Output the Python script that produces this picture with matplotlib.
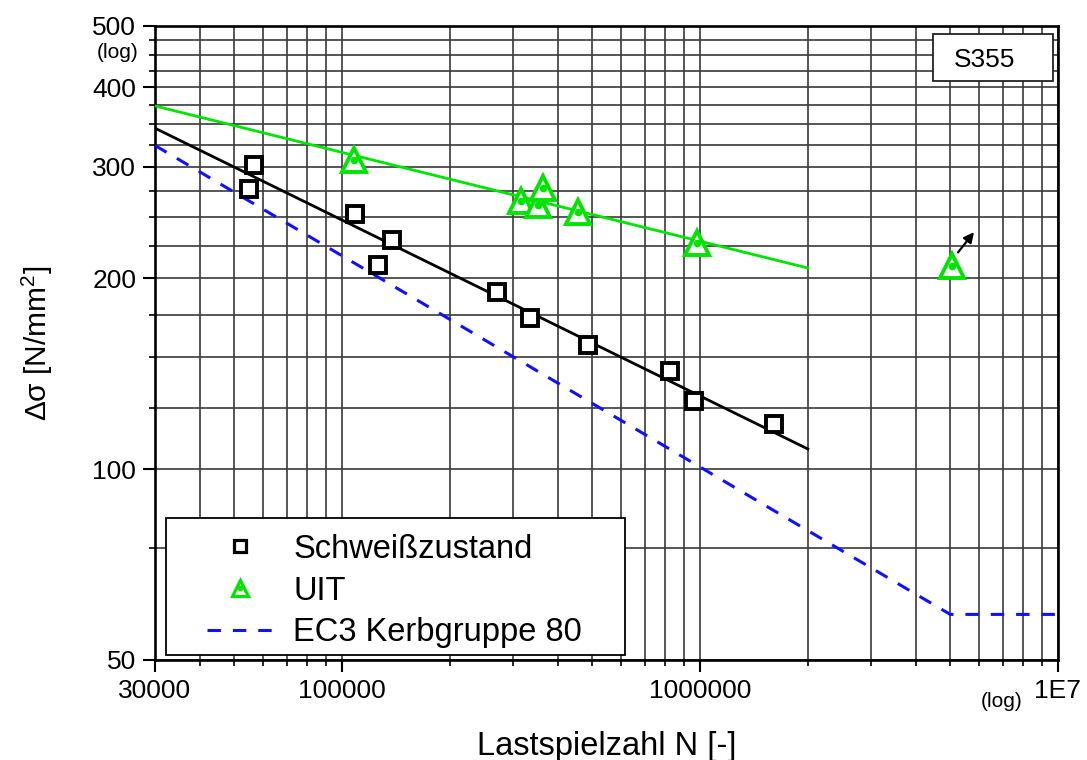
import numpy as np
import matplotlib.pyplot as plt
import matplotlib.transforms as mtransforms
from matplotlib.patches import Rectangle
from matplotlib.lines import Line2D
from matplotlib.ticker import LogLocator, NullFormatter

plt.rcParams['font.family'] = ['Liberation Sans', 'DejaVu Sans']
plt.rcParams['mathtext.fontset'] = 'custom'
plt.rcParams['mathtext.rm'] = 'Liberation Sans'
plt.rcParams['mathtext.default'] = 'rm'

# Schweißzustand (as welded) test results
aw_N = [55000, 56800, 108600, 125700, 138100, 271400, 334800, 485500, 824000, 961800, 1608000]
aw_S = [277, 302, 253, 210, 230, 190, 173, 157, 143, 128, 118]

# UIT test results (last point is a runout)
uit_N = [108100, 316000, 352000, 364800, 455000, 980700, 5050000]
uit_S = [307, 265, 261, 278, 254, 227, 209]

# regression lines (end points)
fit_N = [30000, 2000000]
fit_aw_S = [345, 107.6]
fit_uit_S = [374, 207.6]

# EC3 detail category 80
ec3_N = [30000, 2000000, 5000000, 10000000]
ec3_S = [324, 80, 59, 59]

x_ticks = [30000, 100000, 1000000, 10000000]
x_labels = ['30000', '100000', '1000000', '1E7']
y_ticks = [50, 100, 200, 300, 400, 500]
y_labels = ['50', '100', '200', '300', '400', '500']
y_minor = [75, 125, 150, 175, 225, 250, 275, 325, 350, 375, 425, 450, 475]

green = '#00e400'
blue = '#1010ff'

fig = plt.figure(figsize=(10.87, 7.6), dpi=100)
ax = fig.add_axes([0.1426, 0.1316, 0.8307, 0.8342])
ax.set_xscale('log')
ax.set_yscale('log')
ax.set_xlim(30000, 1e7)
ax.set_ylim(50, 500)

ax.set_xticks(x_ticks)
ax.set_xticklabels(x_labels)
ax.xaxis.set_minor_locator(LogLocator(base=10, subs=np.arange(2, 10)))
ax.xaxis.set_minor_formatter(NullFormatter())
ax.set_yticks(y_ticks)
ax.set_yticklabels(y_labels)
ax.set_yticks(y_minor, minor=True)
ax.yaxis.set_minor_formatter(NullFormatter())

ax.grid(True, which='both', color='#3a3a3a', lw=1.2)
ax.set_axisbelow(True)
for sp in ax.spines.values():
    sp.set_linewidth(1.9)
ax.tick_params(which='major', direction='out', length=8.5, width=1.5, labelsize=19, pad=5)
ax.tick_params(which='minor', direction='out', length=4, width=1.2)

ax.plot(ec3_N, ec3_S, color=blue, lw=2.2, dashes=[4.4, 3.9], zorder=3)
ax.plot(fit_N, fit_aw_S, color='black', lw=2.0, zorder=3)
ax.plot(fit_N, fit_uit_S, color=green, lw=2.0, zorder=3)

ax.plot(aw_N, aw_S, ls='none', marker='s', ms=11.5, mew=2.8, mec='black', mfc='white', zorder=4)
ax.plot(uit_N, uit_S, ls='none', marker='^', ms=17, mew=2.8, mec=green, mfc='white', zorder=4)
ax.plot(uit_N, uit_S, ls='none', marker='o', ms=4.5, color=green, zorder=4)

# runout arrow
tip = mtransforms.offset_copy(ax.transData, fig=fig, x=16, y=24.5, units='points')
tail = mtransforms.offset_copy(ax.transData, fig=fig, x=4.5, y=9.9, units='points')
ax.annotate('', xy=(uit_N[-1], uit_S[-1]), xycoords=tip,
            xytext=(uit_N[-1], uit_S[-1]), textcoords=tail,
            arrowprops=dict(arrowstyle='-|>', color='black', lw=1.6, mutation_scale=15,
                            shrinkA=0, shrinkB=0), zorder=5)

# S355 label box
ax.add_patch(Rectangle((0.8616, 0.9132), 0.1329, 0.0741, transform=ax.transAxes,
                       facecolor='white', edgecolor='#222222', lw=1.3, zorder=5))
ax.text(0.9186, 0.9464, 'S355', transform=ax.transAxes, ha='center', va='center',
        fontsize=19, zorder=6)

# (log) hints
ax.text(-0.0188, 0.958, '(log)', transform=ax.transAxes, ha='right', va='center', fontsize=15)
ax.text(0.938, -0.0658, '(log)', transform=ax.transAxes, ha='center', va='center', fontsize=15)

ax.set_xlabel('Lastspielzahl N [-]', fontsize=23.5, labelpad=20)
ax.set_ylabel('Δσ [N/mm$^2$]', fontsize=21.5, labelpad=27)

# legend
ax.add_patch(Rectangle((0.0122, 0.0079), 0.5083, 0.216, transform=ax.transAxes,
                       facecolor='white', edgecolor='black', lw=1.3, zorder=6))
h_aw = Line2D([], [], ls='none', marker='s', ms=9, mew=2.3, mec='black', mfc='white')
h_uit_tri = Line2D([], [], ls='none', marker='^', ms=12, mew=2.3, mec=green, mfc='white')
h_uit_dot = Line2D([], [], ls='none', marker='o', ms=3, color=green)
h_ec3 = Line2D([], [], color=blue, lw=2.2, dashes=[4.4, 3.9])
leg = ax.legend([h_aw, (h_uit_tri, h_uit_dot), h_ec3],
                ['Schweißzustand', 'UIT', 'EC3 Kerbgruppe 80'],
                loc='upper left', bbox_to_anchor=(0.0576, 0.199), frameon=False,
                fontsize=23.5, handlelength=2.0, handletextpad=0.64, labelspacing=0.33,
                borderpad=0, borderaxespad=0, numpoints=1)
leg.set_zorder(7)

fig.savefig('out.png', dpi=100)
